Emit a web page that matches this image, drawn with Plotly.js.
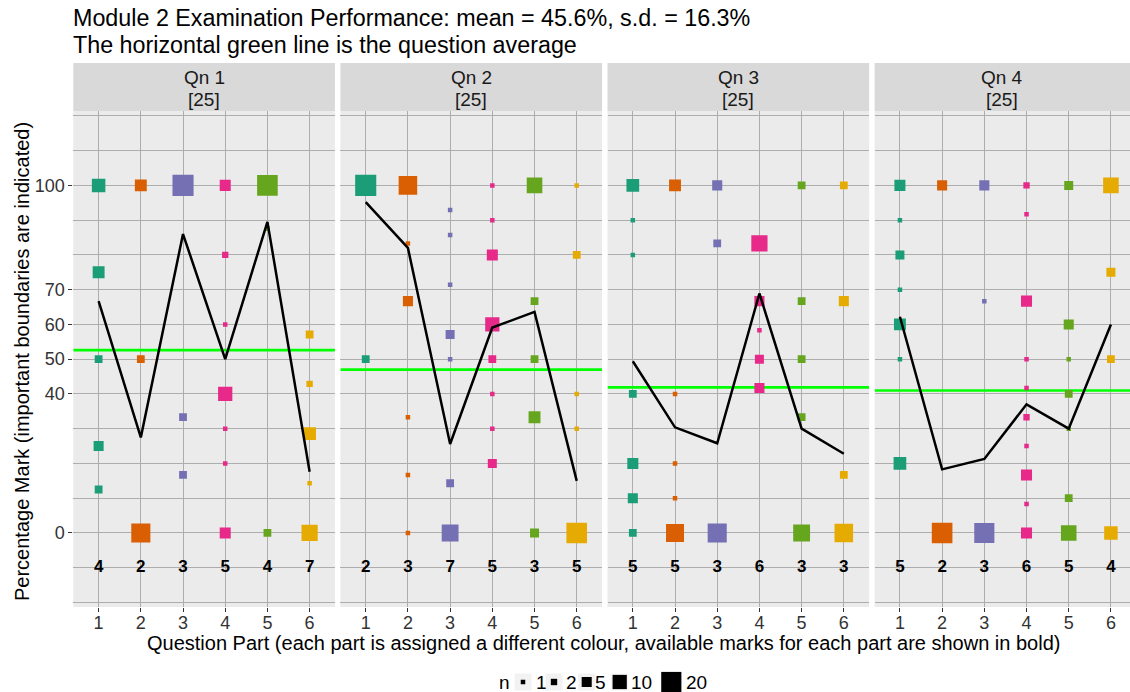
<!DOCTYPE html>
<html>
<head>
<meta charset="utf-8">
<script src="https://cdn.plot.ly/plotly-3.0.1.min.js"></script>
<style>
  html, body { margin: 0; padding: 0; background: #ffffff; }
  #chart { width: 1130px; height: 692px; }
</style>
</head>
<body>
<div id="chart"></div>
<script>
// ---------------- DATA ----------------
const parts = [1, 2, 3, 4, 5, 6];
const questionNames = ['Qn 1', 'Qn 2', 'Qn 3', 'Qn 4'];
const questionMarks = [25, 25, 25, 25];

// percentage marks observed per part, and number of students (n) at each
const q1Pct = [[100, 75, 50, 25, 12.5], [100, 50, 0], [100, 33.3, 16.7], [100, 80, 60, 40, 30, 20, 0], [100, 87.5, 0], [57.1, 42.9, 28.6, 14.3, 0]];
const q1N   = [[9, 7, 3, 5, 3], [7, 3, 18], [22, 3, 3], [6, 2, 1, 10, 1, 1, 6], [21, 1, 3], [3, 2, 8, 1, 13]];
const q2Pct = [[100, 50], [100, 83.3, 66.7, 33.3, 16.7, 0], [92.9, 85.7, 71.4, 57.1, 50, 14.3, 0], [100, 90, 80, 60, 50, 40, 30, 20], [100, 66.7, 50, 33.3, 0], [100, 80, 40, 30, 0]];
const q2N   = [[22, 3], [17, 1, 5, 1, 1, 1], [1, 1, 1, 4, 1, 3, 14], [1, 1, 6, 10, 3, 1, 1, 4], [12, 3, 3, 7, 4], [1, 3, 1, 1, 21]];
const q3Pct = [[100, 90, 80, 40, 20, 10, 0], [100, 40, 20, 10, 0], [100, 83.3, 0], [83.3, 66.7, 58.3, 50, 41.7], [100, 66.7, 50, 33.3, 0], [100, 66.7, 16.7, 0]];
const q3N   = [[8, 1, 1, 3, 6, 5, 3], [7, 1, 1, 1, 16], [5, 3, 18], [13, 5, 1, 4, 5], [3, 3, 3, 3, 14], [3, 5, 3, 17]];
const q4Pct = [[100, 90, 80, 70, 60, 50, 20], [100, 0], [100, 66.7, 0], [100, 91.7, 66.7, 50, 41.7, 33.3, 25, 16.7, 8.3, 0], [100, 60, 50, 40, 30, 10, 0], [100, 75, 50, 0]];
const q4N   = [[6, 1, 4, 1, 7, 1, 8], [5, 21], [5, 1, 20], [2, 1, 6, 1, 1, 2, 1, 6, 1, 6], [4, 5, 1, 3, 1, 3, 12], [12, 4, 3, 9]];

// mean percentage per part (black line)
const q1Mean = [66.7, 27.5, 86.0, 50.0, 89.5, 17.6];
const q2Mean = [95.2, 82.0, 25.6, 59.1, 63.6, 15.0];
const q3Mean = [49.4, 30.4, 25.8, 68.9, 30.0, 22.8];
const q4Mean = [62.2, 18.3, 21.3, 37.0, 30.0, 60.0];

// question average (green line)
const questionAvg = [52.6, 47.0, 41.9, 41.0];

// available marks per part (bold numbers)
const q1Avail = [4, 2, 3, 5, 4, 7];
const q2Avail = [2, 3, 7, 5, 3, 5];
const q3Avail = [5, 5, 3, 6, 3, 3];
const q4Avail = [5, 2, 3, 6, 5, 4];

const yTickVals = [0, 40, 50, 60, 70, 100];
const legendBreaks = [1, 2, 5, 10, 20];

const titleLine1 = 'Module 2 Examination Performance: mean = 45.6%, s.d. = 16.3%';
const titleLine2 = 'The horizontal green line is the question average';
const yTitle = 'Percentage Mark (important boundaries are indicated)';
const xTitle = 'Question Part (each part is assigned a different colour, available marks for each part are shown in bold)';

// ---------------- STYLE / LAYOUT ----------------
const partColors = ['#1B9E77', '#D95F02', '#7570B3', '#E7298A', '#66A61E', '#E6AB02'];
const FONT = '"Liberation Sans", Arial, sans-serif';
const W = 1130, H = 692;
const M = {l: 73, r: 0, t: 63, b: 85};
const plotW = W - M.l - M.r, plotH = H - M.t - M.b;
const px2x = p => (p - M.l) / plotW;
const px2y = p => (H - M.b - p) / plotH;
const panelTopPx = 111;
const panelTop = px2y(panelTopPx);
const unitPx = 42.2;
const panelPitch = 267.1;
const panelLeft0 = 73.3;
const yRange = [-21.3, 121.4];
const countY = -10;
const sizeOf = n => 4.5 * Math.sqrt(n);
const gridCol = '#ADADAD';

const allPct = [q1Pct, q2Pct, q3Pct, q4Pct];
const allN = [q1N, q2N, q3N, q4N];
const allMean = [q1Mean, q2Mean, q3Mean, q4Mean];
const allAvail = [q1Avail, q2Avail, q3Avail, q4Avail];

const traces = [];
const layout = {
  width: W, height: H,
  margin: M,
  paper_bgcolor: '#FFFFFF',
  plot_bgcolor: '#EBEBEB',
  showlegend: false,
  font: {family: FONT, color: '#1A1A1A'},
  shapes: [],
  annotations: []
};

questionNames.forEach((qn, qi) => {
  const suffix = qi === 0 ? '' : String(qi + 1);
  const xa = 'x' + suffix, ya = 'y' + suffix;
  const leftPx = panelLeft0 + qi * panelPitch;
  let rightPx = leftPx + unitPx * 6.2;
  let xr1 = 6.6;
  if (rightPx > W) { xr1 = 0.4 + (W - leftPx) / unitPx; rightPx = W; }
  const xRange = [0.4, xr1];
  layout['xaxis' + suffix] = {
    domain: [Math.max(0, px2x(leftPx)), Math.min(1, px2x(rightPx))],
    range: xRange,
    anchor: ya,
    tickmode: 'array', tickvals: parts, ticktext: parts.map(String),
    ticks: 'outside', ticklen: 4, tickwidth: 1, tickcolor: '#333333',
    ticklabelstandoff: -5,
    tickfont: {family: FONT, size: 18, color: '#333333'},
    showgrid: true, gridcolor: gridCol, gridwidth: 1,
    zeroline: false, showline: false, fixedrange: true
  };
  layout['yaxis' + suffix] = {
    domain: [0, panelTop],
    range: yRange,
    anchor: xa,
    tickmode: 'array', tickvals: yTickVals, ticktext: yTickVals.map(String),
    ticks: qi === 0 ? 'outside' : '', ticklen: 4, tickwidth: 1, tickcolor: '#333333',
    showticklabels: qi === 0,
    tickfont: {family: FONT, size: 18, color: '#333333'},
    showgrid: true, gridcolor: gridCol, gridwidth: 1,
    minor: {dtick: 10, tick0: 0, showgrid: true, gridcolor: gridCol, gridwidth: 1, ticks: ''},
    zeroline: false, showline: false, fixedrange: true
  };
  if (qi > 0) layout['yaxis' + suffix].matches = 'y';

  // strip
  layout.shapes.push({
    type: 'rect', xref: xa + ' domain', yref: 'paper',
    x0: 0, x1: 1, y0: panelTop, y1: 1,
    fillcolor: '#D9D9D9', line: {width: 0}, layer: 'above'
  });
  layout.annotations.push({
    xref: xa + ' domain', yref: 'paper', x: 0.5, y: px2y(77),
    xanchor: 'center', yanchor: 'middle', showarrow: false,
    text: qn, font: {family: FONT, size: 19, color: '#1A1A1A'}
  });
  layout.annotations.push({
    xref: xa + ' domain', yref: 'paper', x: 0.5, y: px2y(99),
    xanchor: 'center', yanchor: 'middle', showarrow: false,
    text: '[' + questionMarks[qi] + ']', font: {family: FONT, size: 19, color: '#1A1A1A'}
  });
  // green question-average line spanning the panel
  layout.shapes.push({
    type: 'line', xref: xa, yref: ya,
    x0: xRange[0], x1: xRange[1], y0: questionAvg[qi], y1: questionAvg[qi],
    line: {color: '#00FF00', width: 2.6}, layer: 'between'
  });

  // points
  const px = [], py = [], ps = [], pc = [];
  allPct[qi].forEach((vals, pi) => {
    vals.forEach((v, k) => {
      px.push(parts[pi]); py.push(v);
      ps.push(sizeOf(allN[qi][pi][k])); pc.push(partColors[pi]);
    });
  });
  traces.push({
    type: 'scatter', mode: 'markers', xaxis: xa, yaxis: ya,
    x: px, y: py, hoverinfo: 'skip',
    marker: {symbol: 'square', size: ps, color: pc, opacity: 1, line: {width: 0}}
  });
  // mean line
  traces.push({
    type: 'scatter', mode: 'lines', xaxis: xa, yaxis: ya,
    x: parts, y: allMean[qi], hoverinfo: 'skip',
    line: {color: '#000000', width: 2.5}
  });
  // available marks
  traces.push({
    type: 'scatter', mode: 'text', xaxis: xa, yaxis: ya,
    x: parts, y: parts.map(() => countY), hoverinfo: 'skip',
    text: allAvail[qi].map(v => '<b>' + v + '</b>'),
    textposition: 'middle center',
    textfont: {family: FONT, size: 17, color: '#000000'}
  });
});

// titles
layout.annotations.push({
  xref: 'paper', yref: 'paper', x: px2x(71), y: px2y(18), xanchor: 'left', yanchor: 'middle',
  showarrow: false, text: titleLine1, font: {family: FONT, size: 23.3, color: '#000000'}
});
layout.annotations.push({
  xref: 'paper', yref: 'paper', x: px2x(71), y: px2y(45), xanchor: 'left', yanchor: 'middle',
  showarrow: false, text: titleLine2, font: {family: FONT, size: 23.3, color: '#000000'}
});
layout.annotations.push({
  xref: 'paper', yref: 'paper', x: px2x(22), y: px2y(362),
  xanchor: 'center', yanchor: 'middle', textangle: -90,
  showarrow: false, text: yTitle, font: {family: FONT, size: 20, color: '#000000'}
});
layout.annotations.push({
  xref: 'paper', yref: 'paper', x: px2x(603), y: px2y(643),
  xanchor: 'center', yanchor: 'middle',
  showarrow: false, text: xTitle, font: {family: FONT, size: 20, color: '#000000'}
});

// size legend (bottom)
const legY = px2y(682);
const legKeyCentersPx = [523, 554, 586.7, 619.7, 671.3];
const legLabelLeftPx = [534, 563.5, 592.5, 628.5, 684];
layout.annotations.push({
  xref: 'paper', yref: 'paper', x: px2x(504), y: legY, xanchor: 'center', yanchor: 'middle',
  showarrow: false, text: 'n', font: {family: FONT, size: 19, color: '#000000'}
});
legendBreaks.forEach((b, i) => {
  const s = sizeOf(b);
  const bg = Math.max(17, s + 1);
  const cx = px2x(legKeyCentersPx[i]);
  layout.shapes.push({
    type: 'rect', xref: 'paper', yref: 'paper', xsizemode: 'pixel', ysizemode: 'pixel',
    xanchor: cx, yanchor: legY, x0: -bg / 2, x1: bg / 2, y0: -bg / 2, y1: bg / 2,
    fillcolor: '#F2F2F2', line: {width: 0}, layer: 'above'
  });
  layout.shapes.push({
    type: 'rect', xref: 'paper', yref: 'paper', xsizemode: 'pixel', ysizemode: 'pixel',
    xanchor: cx, yanchor: legY, x0: -s / 2, x1: s / 2, y0: -s / 2, y1: s / 2,
    fillcolor: '#000000', line: {width: 0}, layer: 'above'
  });
  layout.annotations.push({
    xref: 'paper', yref: 'paper', x: px2x(legLabelLeftPx[i]), y: legY, xanchor: 'left', yanchor: 'middle',
    showarrow: false, text: String(b), font: {family: FONT, size: 19, color: '#000000'}
  });
});

Plotly.newPlot('chart', traces, layout, {displayModeBar: false, staticPlot: true});
</script>
</body>
</html>
